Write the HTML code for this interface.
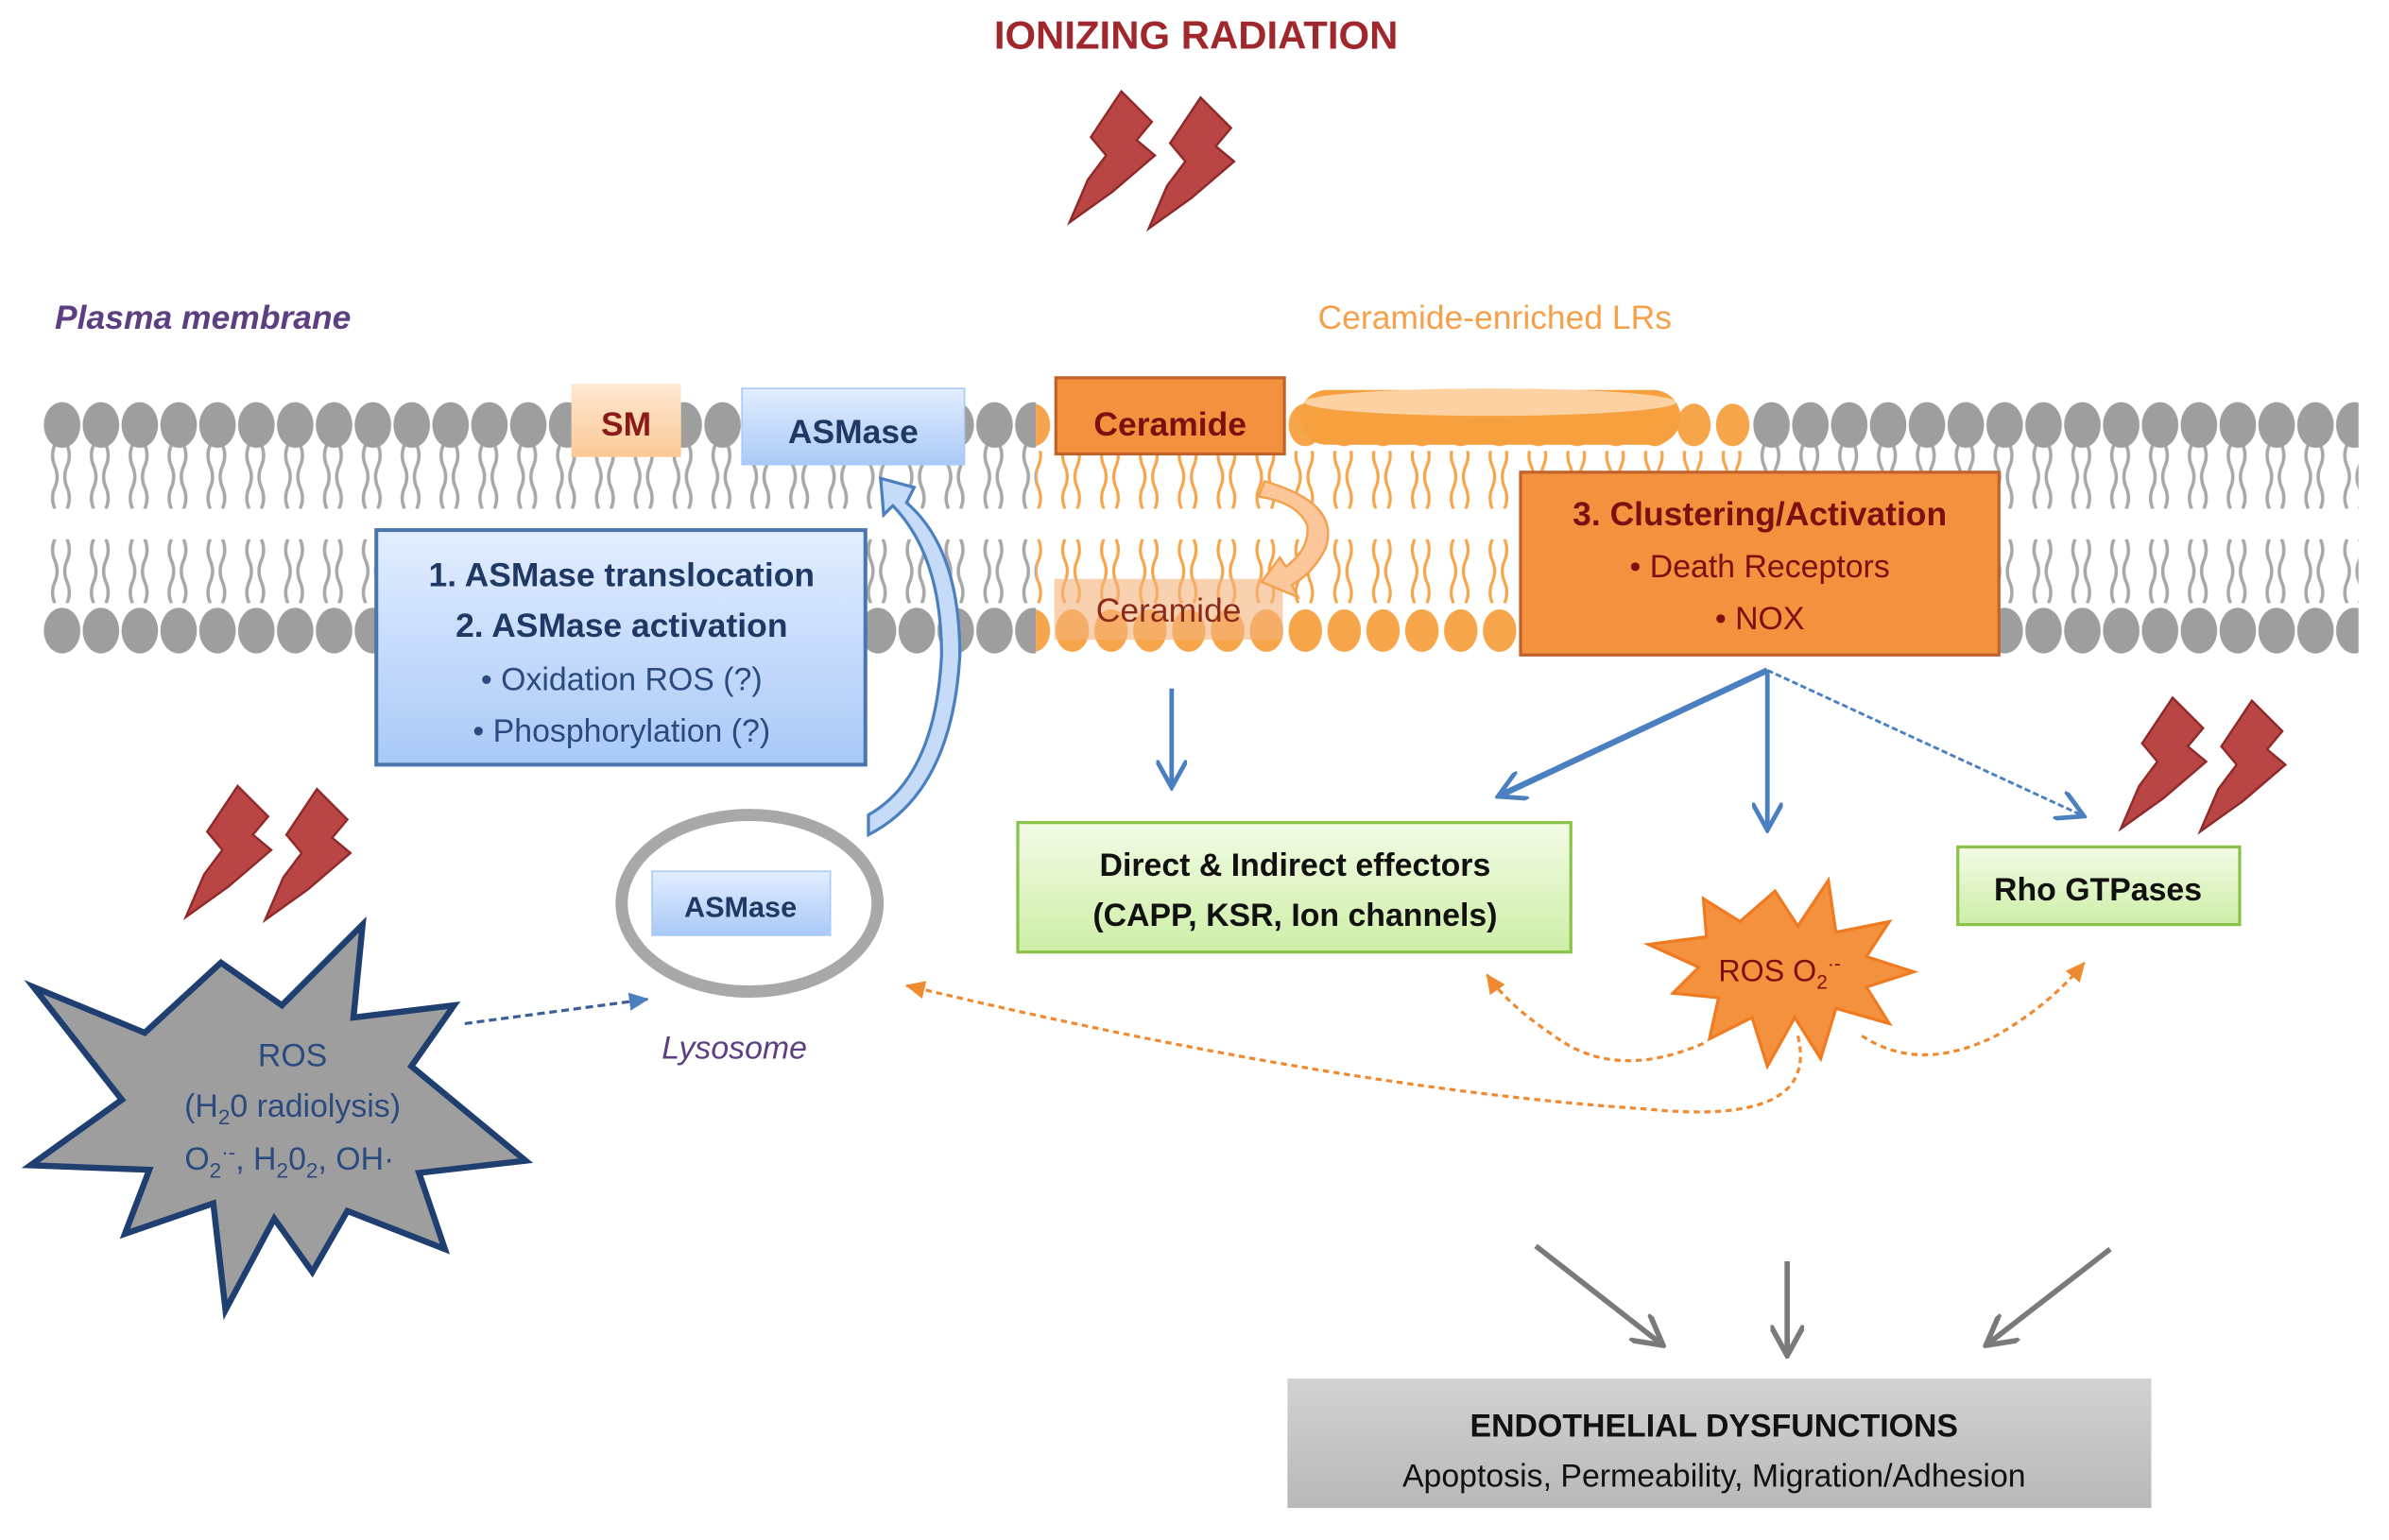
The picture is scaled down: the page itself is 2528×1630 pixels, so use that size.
<!DOCTYPE html>
<html><head><meta charset="utf-8"><style>body{margin:0;background:#fff}svg{display:block}text{font-family:"Liberation Sans",sans-serif}</style></head><body>
<svg width="2528" height="1630" viewBox="0 0 1568 1011" xmlns="http://www.w3.org/2000/svg">
<defs>
<pattern id="hg" patternUnits="userSpaceOnUse" x="28" y="262" width="25.5" height="34"><ellipse cx="12.75" cy="17" rx="12" ry="15" fill="#9e9e9e"/></pattern>
<pattern id="hg2" patternUnits="userSpaceOnUse" x="28" y="397" width="25.5" height="34"><ellipse cx="12.75" cy="17" rx="12" ry="15" fill="#9e9e9e"/></pattern>
<pattern id="ho" patternUnits="userSpaceOnUse" x="28" y="262" width="25.5" height="34"><ellipse cx="12.75" cy="17" rx="11" ry="14" fill="#f7a54a"/></pattern>
<pattern id="ho2" patternUnits="userSpaceOnUse" x="28" y="397" width="25.5" height="34"><ellipse cx="12.75" cy="17" rx="11" ry="14" fill="#f7a54a"/></pattern>
<pattern id="tg" patternUnits="userSpaceOnUse" x="28" y="292" width="25.5" height="42"><path d="M8 0q-3 7 0 14t0 14 0 14M16 0q3 7 0 14t0 14 0 14" stroke="#a8a8a8" stroke-width="2.2" fill="none"/></pattern>
<pattern id="to" patternUnits="userSpaceOnUse" x="28" y="292" width="25.5" height="42"><path d="M8 0q-3 7 0 14t0 14 0 14M16 0q3 7 0 14t0 14 0 14" stroke="#f7a54a" stroke-width="2" fill="none"/></pattern>
<pattern id="tg2" patternUnits="userSpaceOnUse" x="28" y="354" width="25.5" height="42"><path d="M8 0q-3 7 0 14t0 14 0 14M16 0q3 7 0 14t0 14 0 14" stroke="#a8a8a8" stroke-width="2.2" fill="none"/></pattern>
<pattern id="to2" patternUnits="userSpaceOnUse" x="28" y="354" width="25.5" height="42"><path d="M8 0q-3 7 0 14t0 14 0 14M16 0q3 7 0 14t0 14 0 14" stroke="#f7a54a" stroke-width="2" fill="none"/></pattern>
<linearGradient id="bl" x1="0" y1="0" x2="0" y2="1"><stop offset="0" stop-color="#e3eeff"/><stop offset="1" stop-color="#a9c9f7"/></linearGradient>
<linearGradient id="gr" x1="0" y1="0" x2="0" y2="1"><stop offset="0" stop-color="#f3fbe6"/><stop offset="1" stop-color="#cdeea6"/></linearGradient>
<linearGradient id="gy" x1="0" y1="0" x2="0" y2="1"><stop offset="0" stop-color="#d2d2d2"/><stop offset="1" stop-color="#b8b8b8"/></linearGradient>
<linearGradient id="sm" x1="0" y1="0" x2="0" y2="1"><stop offset="0" stop-color="#fee8d2"/><stop offset="1" stop-color="#fbc996"/></linearGradient>
<g id="bolt"><polygon points="34,0 54,20 44,32 56,42 28,66 0,86 12,58 24,42 14,30" fill="#b94545" stroke="#8e2a2a" stroke-width="1.5"/></g>
<marker id="abl" markerWidth="20" markerHeight="20" refX="16" refY="10" orient="auto" markerUnits="userSpaceOnUse"><path d="M0,0 L18,10 L0,20" fill="none" stroke="#4a7fc0" stroke-width="3"/></marker>
<marker id="ao" markerWidth="14" markerHeight="14" refX="12" refY="7" orient="auto" markerUnits="userSpaceOnUse"><path d="M0,1 L13,7 L0,13z" fill="#f08a30"/></marker>
<marker id="ag" markerWidth="22" markerHeight="22" refX="18" refY="11" orient="auto" markerUnits="userSpaceOnUse"><path d="M0,0 L20,11 L0,22" fill="none" stroke="#7a7a7a" stroke-width="3.5"/></marker>
<marker id="ad" markerWidth="14" markerHeight="14" refX="12" refY="7" orient="auto" markerUnits="userSpaceOnUse"><path d="M0,1 L13,7 L0,13z" fill="#4a7fc0"/></marker>
</defs>

<text x="785" y="32" text-anchor="middle" font-size="26" font-weight="bold" fill="#a0282c">IONIZING RADIATION</text>
<use href="#bolt" x="702" y="60"/><use href="#bolt" x="754" y="64"/>
<use href="#bolt" x="1392" y="458"/><use href="#bolt" x="1444" y="460"/>
<use href="#bolt" x="122" y="516"/><use href="#bolt" x="174" y="518"/>

<text x="36" y="216" font-size="22" font-style="italic" font-weight="bold" fill="#5b3f80">Plasma membrane</text>
<text x="865" y="216" font-size="22" fill="#f5a04a">Ceramide-enriched LRs</text>

<rect x="28" y="292" width="1520" height="42" fill="url(#tg)"/>
<rect x="680" y="292" width="470" height="42" fill="#fff"/><rect x="680" y="292" width="470" height="42" fill="url(#to)"/>
<rect x="28" y="262" width="1520" height="34" fill="url(#hg)"/>
<rect x="680" y="262" width="470" height="34" fill="#fff"/><rect x="680" y="262" width="470" height="34" fill="url(#ho)"/>
<rect x="28" y="354" width="1520" height="42" fill="url(#tg2)"/>
<rect x="680" y="354" width="320" height="42" fill="#fff"/><rect x="680" y="354" width="320" height="42" fill="url(#to2)"/>
<rect x="28" y="397" width="1520" height="34" fill="url(#hg2)"/>
<rect x="680" y="397" width="320" height="34" fill="#fff"/><rect x="680" y="397" width="320" height="34" fill="url(#ho2)"/>

<rect x="375" y="252" width="72" height="48" fill="url(#sm)"/>
<text x="411" y="286" text-anchor="middle" font-size="22" font-weight="bold" fill="#8b1a1a">SM</text>
<rect x="487" y="255" width="146" height="50" fill="url(#bl)" stroke="#a9c9f7"/>
<text x="560" y="291" text-anchor="middle" font-size="22" font-weight="bold" fill="#1f3864">ASMase</text>
<rect x="853" y="256" width="250" height="36" rx="18" fill="#f7a040"/>
<ellipse cx="978" cy="264" rx="122" ry="9" fill="#fcd2a2"/>
<rect x="693" y="248" width="150" height="50" fill="#f4913f" stroke="#c0622a" stroke-width="2"/>
<text x="768" y="286" text-anchor="middle" font-size="22" font-weight="bold" fill="#7a1010">Ceramide</text>
<rect x="692" y="380" width="150" height="40" fill="#f4b27c" opacity="0.6"/>
<text x="767" y="408" text-anchor="middle" font-size="22" fill="#8b2a1a">Ceramide</text>
<path d="M830 316 Q880 330 870 360 Q862 376 848 384 L852 392 L828 382 L840 366 L844 372 Q860 360 858 345 Q852 330 826 326z" fill="#fbc69a" stroke="#f5a04a" stroke-width="1.5"/>

<rect x="247" y="348" width="321" height="154" fill="url(#bl)" stroke="#4a76b0" stroke-width="2.5"/>
<text x="408" y="385" text-anchor="middle" font-size="22" font-weight="bold" fill="#1f3864">1. ASMase translocation</text>
<text x="408" y="418" text-anchor="middle" font-size="22" font-weight="bold" fill="#1f3864">2. ASMase activation</text>
<text x="408" y="453" text-anchor="middle" font-size="21" fill="#2a4a80">• Oxidation ROS (?)</text>
<text x="408" y="487" text-anchor="middle" font-size="21" fill="#2a4a80">• Phosphorylation (?)</text>

<rect x="998" y="310" width="314" height="120" fill="#f4913f" stroke="#c0622a" stroke-width="2"/>
<text x="1155" y="345" text-anchor="middle" font-size="22" font-weight="bold" fill="#7a1010">3. Clustering/Activation</text>
<text x="1155" y="379" text-anchor="middle" font-size="21" fill="#7a1010">• Death Receptors</text>
<text x="1155" y="413" text-anchor="middle" font-size="21" fill="#7a1010">• NOX</text>

<path d="M570 548 Q625 520 630 430 Q630 360 595 330 L600 320 L578 314 L580 338 L586 332 Q618 365 618 430 Q614 510 570 535z" fill="#c6dbf7" stroke="#4a7fc0" stroke-width="2"/>
<ellipse cx="492" cy="593" rx="84" ry="58" fill="none" stroke="#a8a8a8" stroke-width="8"/>
<rect x="428" y="572" width="117" height="42" fill="url(#bl)" stroke="#a9c9f7"/>
<text x="486" y="602" text-anchor="middle" font-size="19" font-weight="bold" fill="#1f3864">ASMase</text>
<text x="482" y="695" text-anchor="middle" font-size="21" font-style="italic" fill="#5b3f80">Lysosome</text>

<polygon points="145,632 185,660 238,607 232,668 298,660 270,700 345,762 275,770 292,820 228,795 205,835 180,800 148,860 140,790 82,810 98,768 20,765 80,722 22,648 95,678" fill="#9e9e9e" stroke="#1f3f70" stroke-width="4"/>
<text x="192" y="700" text-anchor="middle" font-size="21" fill="#2a4a80">ROS</text>
<text x="192" y="733" text-anchor="middle" font-size="21" fill="#2a4a80">(H<tspan font-size="14" dy="5">2</tspan><tspan dy="-5">0 radiolysis)</tspan></text>
<text x="190" y="768" text-anchor="middle" font-size="21" fill="#2a4a80">O<tspan font-size="14" dy="5">2</tspan><tspan font-size="14" dy="-12">·-</tspan><tspan dy="7">, H</tspan><tspan font-size="14" dy="5">2</tspan><tspan dy="-5">0</tspan><tspan font-size="14" dy="5">2</tspan><tspan dy="-5">, OH·</tspan></text>
<line x1="305" y1="672" x2="425" y2="656" stroke="#3a5f98" stroke-width="2" stroke-dasharray="5,3" marker-end="url(#ad)"/>

<line x1="769" y1="452" x2="769" y2="515" stroke="#4a7fc0" stroke-width="3" marker-end="url(#abl)"/>
<line x1="1160" y1="440" x2="985" y2="522" stroke="#4a7fc0" stroke-width="4" marker-end="url(#abl)"/>
<line x1="1160" y1="440" x2="1160" y2="543" stroke="#4a7fc0" stroke-width="3" marker-end="url(#abl)"/>
<line x1="1160" y1="440" x2="1366" y2="535" stroke="#4a7fc0" stroke-width="1.8" stroke-dasharray="4,2" marker-end="url(#abl)"/>

<rect x="668" y="540" width="363" height="85" fill="url(#gr)" stroke="#8bc34a" stroke-width="2"/>
<text x="850" y="575" text-anchor="middle" font-size="21" font-weight="bold" fill="#111">Direct &amp; Indirect effectors</text>
<text x="850" y="608" text-anchor="middle" font-size="21" font-weight="bold" fill="#111">(CAPP, KSR, Ion channels)</text>
<rect x="1285" y="556" width="185" height="51" fill="url(#gr)" stroke="#8bc34a" stroke-width="2"/>
<text x="1377" y="591" text-anchor="middle" font-size="21" font-weight="bold" fill="#111">Rho GTPases</text>

<polygon points="1165,585 1180,608 1200,578 1205,612 1240,605 1225,628 1256,638 1225,648 1240,672 1205,662 1195,695 1178,668 1160,700 1150,668 1122,682 1128,655 1098,652 1115,635 1082,620 1120,615 1118,590 1142,605" fill="#f4913f" stroke="#f07a20" stroke-width="2"/>
<text x="1168" y="644" text-anchor="middle" font-size="20" fill="#7a1010">ROS  O<tspan font-size="13" dy="5">2</tspan><tspan font-size="13" dy="-12">·-</tspan></text>
<g fill="none" stroke="#f08a30" stroke-width="2" stroke-dasharray="4,3">
<path d="M1118 685 Q1060 710 1020 680 Q990 660 976 640" marker-end="url(#ao)"/>
<path d="M1222 680 Q1260 705 1310 680 Q1345 660 1368 632" marker-end="url(#ao)"/>
<path d="M1180 680 Q1195 740 1080 728 Q880 715 595 647" marker-end="url(#ao)"/>
</g>

<line x1="1008" y1="818" x2="1090" y2="882" stroke="#7a7a7a" stroke-width="3.5" marker-end="url(#ag)"/>
<line x1="1173" y1="828" x2="1173" y2="888" stroke="#7a7a7a" stroke-width="3.5" marker-end="url(#ag)"/>
<line x1="1385" y1="820" x2="1305" y2="882" stroke="#7a7a7a" stroke-width="3.5" marker-end="url(#ag)"/>

<rect x="845" y="905" width="567" height="85" fill="url(#gy)"/>
<text x="1125" y="943" text-anchor="middle" font-size="21" font-weight="bold" fill="#111">ENDOTHELIAL DYSFUNCTIONS</text>
<text x="1125" y="976" text-anchor="middle" font-size="21" fill="#111">Apoptosis, Permeability, Migration/Adhesion</text>
</svg>
</body></html>
